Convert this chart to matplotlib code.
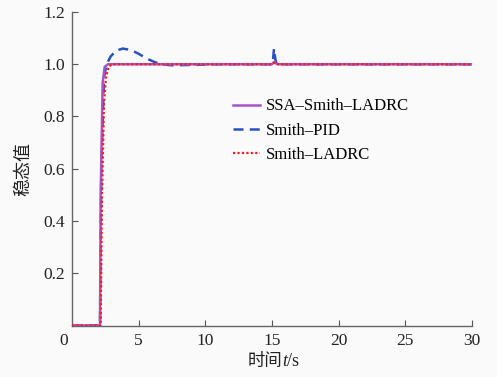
import numpy as np
import matplotlib as mpl
import matplotlib.pyplot as plt
from matplotlib.transforms import ScaledTranslation

mpl.rcParams['font.family'] = ['Liberation Serif', 'Noto Sans CJK SC']

# step responses (time in s, value)
t_ssa = [0, 2.1, 2.15, 2.3, 2.45, 2.7, 15.0, 15.15, 15.3, 15.5, 30]
y_ssa = [0, 0, 0.5, 0.93, 0.99, 1.0, 1.0, 1.008, 1.003, 1.0, 1.0]

t_pid = [0, 2.1, 2.2, 2.4, 2.6, 2.9, 3.3, 3.8, 4.4, 5.0, 5.6, 6.2, 6.8, 7.5, 8.5, 9.6, 10.5,
         15.0, 15.08, 15.15, 15.25, 15.35, 15.6, 30]
y_pid = [0, 0, 0.6, 0.95, 1.0, 1.03, 1.052, 1.06, 1.055, 1.04, 1.022, 1.008, 0.999, 0.996, 0.997, 0.998, 1.0,
         1.0, 1.02, 1.06, 1.02, 1.0, 1.0, 1.0]

t_lad = [0, 2.15, 2.25, 2.4, 2.55, 2.75, 3.0, 15.0, 15.15, 15.3, 30]
y_lad = [0, 0, 0.5, 0.85, 0.95, 0.99, 1.0, 1.0, 1.006, 1.0, 1.0]

names = ['SSA\u2013Smith\u2013LADRC', 'Smith\u2013PID', 'Smith\u2013LADRC']
xticks = [0, 5, 10, 15, 20, 25, 30]
yticks = [0, 0.2, 0.4, 0.6, 0.8, 1.0, 1.2]
# the origin shares a single "0" (drawn as the x tick label)
yticklabels = ['', '0.2', '0.4', '0.6', '0.8', '1.0', '1.2']

fig = plt.figure(figsize=(4.97, 3.77), dpi=100, facecolor='#fafafa')
ax = fig.add_axes([72 / 497, 1 - 326 / 377, 400 / 497, 314 / 377])
ax.set_facecolor('#fafafa')

ax.plot(t_pid, y_pid, color='#2a52be', ls=(0, (4, 2.5)), lw=1.8, label=names[1], zorder=2)
ax.plot(t_ssa, y_ssa, color='#a655c6', lw=1.8, label=names[0], zorder=3)
ax.plot(t_lad, y_lad, color='#ff1a1a', ls=(0, (1, 1)), lw=1.6, label=names[2], zorder=4)

ax.set_xlim(0, 30)
ax.set_ylim(-0.002, 1.2)
ax.set_xticks(xticks)
ax.set_xticklabels([str(v) for v in xticks])
ax.set_yticks(yticks)
ax.set_yticklabels(yticklabels)
ax.tick_params(direction='in', length=4, width=0.8, labelsize=12.5,
               colors='#555555', labelcolor='#222222', pad=5)
ax.tick_params(axis='y', left=True)
ax.yaxis.get_major_ticks()[0].tick1line.set_visible(False)
ax.xaxis.get_major_ticks()[0].tick1line.set_visible(False)
origin = ax.get_xticklabels()[0]
origin.set_transform(origin.get_transform() + ScaledTranslation(-8 / 100, 0, fig.dpi_scale_trans))
for s in ['top', 'right']:
    ax.spines[s].set_visible(False)
for s in ['left', 'bottom']:
    ax.spines[s].set_color('#666666')
    ax.spines[s].set_linewidth(1.0)

# x label: 时间 + italic t + /s
lab1 = ax.text(0.525, -0.082, '时间', transform=ax.transAxes, ha='right', va='top',
               fontsize=12.5, family='Noto Sans CJK SC', color='#222222')
lab2 = ax.annotate('t', xy=(1, 0), xycoords=lab1, ha='left', va='bottom',
                   fontsize=13, style='italic', color='#222222')
ax.annotate('/s', xy=(1, 0), xycoords=lab2, ha='left', va='bottom',
            fontsize=13, color='#222222')

ax.set_ylabel('稳态值', fontsize=13, labelpad=8, color='#222222',
              family='Noto Sans CJK SC')

h, l = ax.get_legend_handles_labels()
order = [1, 0, 2]
ax.legend([h[i] for i in order], [l[i] for i in order], loc='upper left',
          bbox_to_anchor=(0.4025, 0.725), frameon=False, fontsize=12,
          handlelength=1.6, handletextpad=0.35, labelspacing=0.5,
          borderaxespad=0, borderpad=0)

fig.savefig('out.png', dpi=100, facecolor=fig.get_facecolor())
